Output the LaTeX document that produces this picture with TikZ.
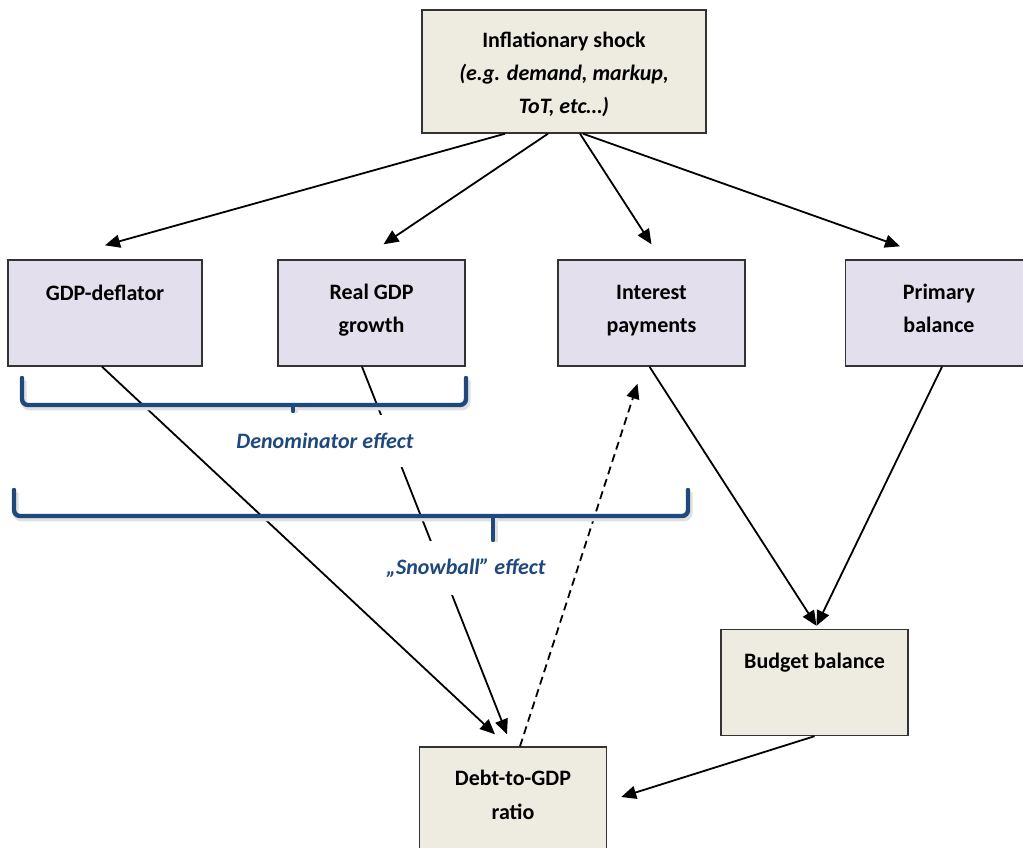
\documentclass[tikz,border=0pt]{standalone}
\usepackage{fontspec}
\setmainfont{Carlito}
\usetikzlibrary{arrows.meta, positioning}
\definecolor{BoxLilac}{HTML}{E4DFEC}
\definecolor{BoxBeige}{HTML}{EEECE1}
\definecolor{EffectBlue}{HTML}{1F497D}
\tikzset{
  lilacbox/.style={rectangle, draw=black!80, fill=BoxLilac, line width=0.7pt, minimum width=93.5pt, minimum height=53pt, inner sep=0pt},
  beigebox/.style={rectangle, draw=black!80, fill=BoxBeige, line width=0.7pt, minimum width=93.5pt, minimum height=53pt, inner sep=0pt},
  boxtext/.style={font=\fontsize{11}{16.5}\selectfont\bfseries, align=center, inner sep=0pt},
  effecttext/.style={font=\fontsize{11}{13}\selectfont\bfseries\itshape, text=EffectBlue, fill=white, inner xsep=5pt, inner ysep=9pt},
  arrow/.style={-{Triangle[length=7.5pt, width=6.5pt]}, line width=0.9pt},
  dashedarrow/.style={arrow, dash pattern=on 4pt off 2.5pt},
  bracket/.style={draw=EffectBlue, line width=2.2pt, rounded corners=3pt, line cap=round,
    preaction={draw=black!12, line width=3pt, transform canvas={shift={(0.8pt,-1.2pt)}}}}
}

\begin{document}
\begin{tikzpicture}[x=0.5pt, y=-0.5pt]
  \useasboundingbox (0,0) rectangle (1023,847);
  \clip (0,0) rectangle (1023,847);

  % boxes
  \node[beigebox, minimum width=142pt, minimum height=61.5pt] (shock) at (564,71.5) {};
  \node[boxtext, below=11pt of shock.north] (shock-txt) {Inflationary shock\\\itshape (e.g. demand, markup,\\\itshape ToT, etc\ldots)};

  \node[lilacbox, minimum width=97pt] (deflator) at (105,313) {};
  \node[boxtext, below=12.5pt of deflator.north] (deflator-txt) {GDP-deflator};
  \node[lilacbox] (realgdp) at (371.5,313) {};
  \node[boxtext, below=12pt of realgdp.north] (realgdp-txt) {Real GDP\\growth};
  \node[lilacbox] (interest) at (651.5,313) {};
  \node[boxtext, below=13pt of interest.north] (interest-txt) {Interest\\payments};
  \node[lilacbox] (primary) at (939,313) {};
  \node[boxtext, below=12pt of primary.north] (primary-txt) {Primary\\balance};

  \node[beigebox] (budget) at (814.5,682.5) {};
  \node[boxtext, below=12pt of budget.north] (budget-txt) {Budget balance};
  \node[beigebox] (debt) at (513,800) {};
  \node[boxtext, below=11.5pt of debt.north, font=\fontsize{11}{17}\selectfont\bfseries] (debt-txt) {Debt-to-GDP\\ratio};

  % arrows
  \draw[arrow] ([xshift=-29.5pt]shock.south) -- ([yshift=7pt]deflator.north);
  \draw[arrow] ([xshift=-8pt]shock.south) -- ([xshift=6pt, yshift=7.5pt]realgdp.north);
  \draw[arrow] ([xshift=8pt]shock.south) -- ([yshift=7.5pt]interest.north);
  \draw[arrow] ([xshift=9.5pt]shock.south) -- ([xshift=-19.5pt, yshift=6.5pt]primary.north);

  \draw[arrow] ([xshift=-1.5pt]deflator.south) -- ([xshift=-9pt, yshift=6pt]debt.north);
  \draw[arrow] ([xshift=-4.75pt]realgdp.south) -- ([xshift=-3pt, yshift=6pt]debt.north);
  \draw[dashedarrow] ([xshift=3.5pt]debt.north) -- ([xshift=-7pt, yshift=-8.5pt]interest.south);
  \draw[arrow] ([xshift=-1pt]interest.south) -- ([xshift=1pt, yshift=1.5pt]budget.north);
  \draw[arrow] ([xshift=1.5pt]primary.south) -- ([xshift=1pt, yshift=1.5pt]budget.north);
  \draw[arrow] (budget.south) -- ([xshift=7pt, yshift=1.5pt]debt.east);

  % effects
  \node[effecttext] (denominator) at (325,441) {Denominator effect};
  \node[effecttext] (snowball) at (466,568) {„Snowball” effect};

  \draw[bracket] (22,378) -- (22,405) -- (466,405) -- (466,378);
  \draw[bracket, rounded corners=0pt] (293,405) -- (293,411);
  \draw[bracket] (14,490) -- (14,516) -- (688,516) -- (688,490);
  \draw[bracket, rounded corners=0pt] (493,516) -- (493,540);
\end{tikzpicture}
\end{document}
